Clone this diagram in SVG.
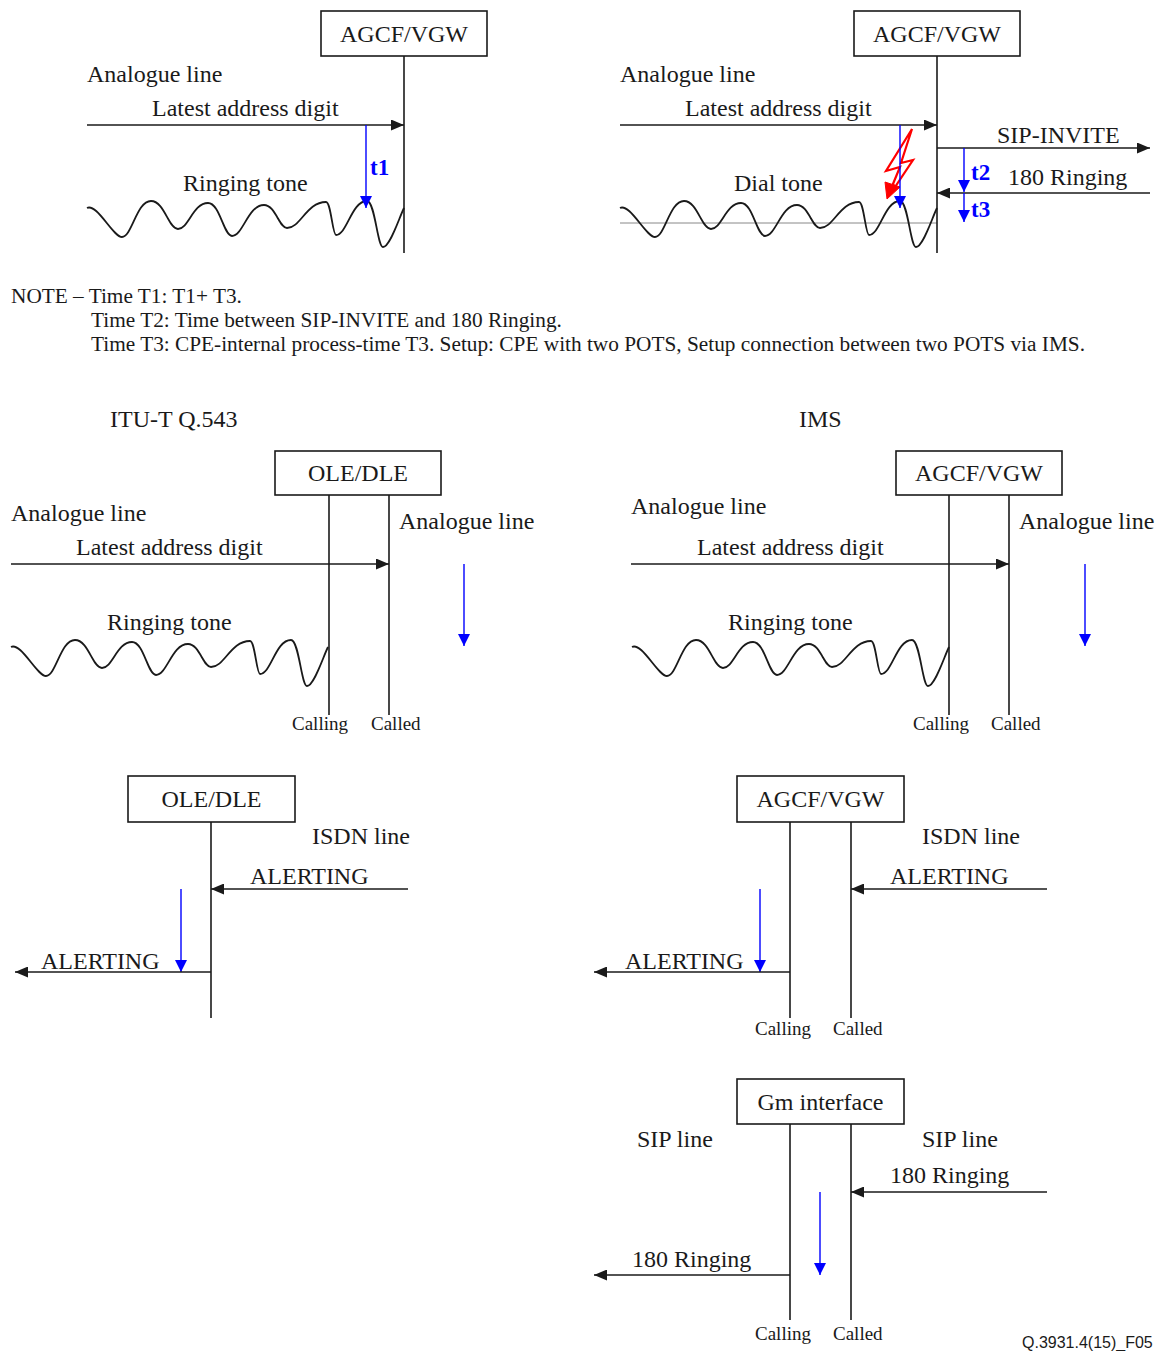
<svg xmlns="http://www.w3.org/2000/svg" xmlns:xlink="http://www.w3.org/1999/xlink" width="1161" height="1351" viewBox="0 0 1161 1351">
<style>
text{font-family:"Liberation Serif","Times New Roman",serif;fill:#1a1a1a;font-size:24px}
.note{font-size:21.3px}
.sm{font-size:19px}
.t{font-family:"Liberation Serif","Times New Roman",serif;font-weight:bold;fill:#0000ff;font-size:23px}
.code{font-family:"Liberation Sans",Arial,sans-serif;font-size:16px}
.box{fill:#fff;stroke:#1a1a1a;stroke-width:1.6}
.ln{stroke:#1a1a1a;stroke-width:1.6;fill:none}
.ar{stroke:#1a1a1a;stroke-width:1.6;fill:none;marker-end:url(#ah)}
.bl{stroke:#0000ff;stroke-width:1.4;fill:none;marker-end:url(#bh)}
.wave{stroke:#1a1a1a;stroke-width:1.8;fill:none}
.c{text-anchor:middle}
</style>
<defs>
<marker id="ah" markerWidth="13" markerHeight="11" refX="13" refY="5.5" orient="auto" markerUnits="userSpaceOnUse"><path d="M0,0 L13,5.5 L0,11 z" fill="#1a1a1a"/></marker>
<marker id="bh" markerWidth="12" markerHeight="12" refX="12" refY="6" orient="auto" markerUnits="userSpaceOnUse"><path d="M0,0 L12,6 L0,12 z" fill="#0000ff"/></marker>
<path id="wave" class="wave" d="M0,0 C10,-5 26,29 35,29 C45,29 49.5,-7 64,-7 C77.5,-7 81.5,21 91,21 C101.5,21 106,-5 121,-5 C133,-5 136.6,28 145,28 C156,28 161,-3 177,-3 C188.5,-3 192,20 200,20 C213.6,20 219.5,-6 239,-6 C244,-6 245.5,27 249,27 C260,27 264.5,-7 280,-7 C288,-7 290.4,39 296,39 C303,39 312,10 317,0"/>
</defs>
<rect width="1161" height="1351" fill="#fff"/>

<g id="top-left">
<g id="n-agcf1"><rect class="box" x="321" y="11" width="166" height="45"/><text class="c" x="404" y="42">AGCF/VGW</text></g>
<text x="87" y="82">Analogue line</text>
<text x="152" y="116">Latest address digit</text>
<text x="183" y="191">Ringing tone</text>
<use xlink:href="#wave" transform="translate(87,208)"/>
<text class="t" x="370" y="175">t1</text>
</g>

<g id="top-right">
<g id="n-agcf2"><rect class="box" x="854" y="11" width="166" height="45"/><text class="c" x="937" y="42">AGCF/VGW</text></g>
<text x="620" y="82">Analogue line</text>
<text x="685" y="116">Latest address digit</text>
<text x="734" y="191">Dial tone</text>
<text x="997" y="143">SIP-INVITE</text>
<text x="1008" y="185">180 Ringing</text>
<line x1="620" y1="223" x2="937" y2="223" stroke="#888" stroke-width="1"/>
<use xlink:href="#wave" transform="translate(620,208)"/>
<text class="t" x="971" y="180">t2</text>
<text class="t" x="971" y="217">t3</text>
<polygon points="912,129 886,171 900,167 893,184 895,187 913,160 901,163" fill="none" stroke="#ff0000" stroke-width="2.2" stroke-linejoin="miter"/>
<polygon points="885,182 900,187 887,199" fill="#ff0000" stroke="#ff0000" stroke-width="1"/>
</g>

<g id="note">
<text class="note" x="11" y="303">NOTE – Time T1: T1+ T3.</text>
<text class="note" x="91" y="327">Time T2: Time between SIP-INVITE and 180 Ringing.</text>
<text class="note" x="91" y="351">Time T3: CPE-internal process-time T3. Setup: CPE with two POTS, Setup connection between two POTS via IMS.</text>
</g>

<text x="110" y="427">ITU-T Q.543</text>
<text x="799" y="427">IMS</text>

<g id="mid-itu">
<g id="n-ole1"><rect class="box" x="275" y="451" width="166" height="44"/><text class="c" x="358" y="481">OLE/DLE</text></g>
<text x="11" y="521">Analogue line</text>
<text x="76" y="555">Latest address digit</text>
<text x="399" y="529">Analogue line</text>
<text x="107" y="630">Ringing tone</text>
<use xlink:href="#wave" transform="translate(11,647)"/>
<text class="sm" x="292" y="730">Calling</text>
<text class="sm" x="371" y="730">Called</text>
</g>

<g id="mid-ims">
<g id="n-agcf3"><rect class="box" x="896" y="451" width="166" height="44"/><text class="c" x="979" y="481">AGCF/VGW</text></g>
<text x="631" y="514">Analogue line</text>
<text x="697" y="555">Latest address digit</text>
<text x="1019" y="529">Analogue line</text>
<text x="728" y="630">Ringing tone</text>
<use xlink:href="#wave" transform="translate(632,647)"/>
<text class="sm" x="913" y="730">Calling</text>
<text class="sm" x="991" y="730">Called</text>
</g>

<g id="bot-itu">
<g id="n-ole2"><rect class="box" x="128" y="776" width="167" height="46"/><text class="c" x="211.5" y="807">OLE/DLE</text></g>
<text x="312" y="844">ISDN line</text>
<text x="250" y="884">ALERTING</text>
<text x="41" y="969">ALERTING</text>
</g>

<g id="bot-ims">
<g id="n-agcf4"><rect class="box" x="737" y="776" width="167" height="46"/><text class="c" x="820.5" y="807">AGCF/VGW</text></g>
<text x="922" y="844">ISDN line</text>
<text x="890" y="884">ALERTING</text>
<text x="625" y="969">ALERTING</text>
<text class="sm" x="755" y="1035">Calling</text>
<text class="sm" x="833" y="1035">Called</text>
</g>

<g id="gm">
<g id="n-gm"><rect class="box" x="737" y="1079" width="167" height="45"/><text class="c" x="820.5" y="1110">Gm interface</text></g>
<text x="637" y="1147">SIP line</text>
<text x="922" y="1147">SIP line</text>
<text x="890" y="1183">180 Ringing</text>
<text x="632" y="1267">180 Ringing</text>
<text class="sm" x="755" y="1340">Calling</text>
<text class="sm" x="833" y="1340">Called</text>
</g>

<text class="code" x="1022" y="1348">Q.3931.4(15)_F05</text>

<g id="connectors">
<line class="ln" x1="404" y1="56" x2="404" y2="253"/>
<line class="ar" x1="87" y1="125" x2="404" y2="125"/>
<line class="bl" x1="366" y1="125" x2="366" y2="208"/>

<line class="ln" x1="937" y1="56" x2="937" y2="253"/>
<line class="ar" x1="620" y1="125" x2="937" y2="125"/>
<line class="bl" x1="900" y1="125" x2="900" y2="208"/>
<line class="ar" x1="937" y1="148" x2="1150" y2="148"/>
<line class="ar" x1="1150" y1="193" x2="937" y2="193"/>
<line class="bl" x1="964" y1="148" x2="964" y2="192"/>
<line class="bl" x1="964" y1="193" x2="964" y2="222"/>

<line class="ln" x1="329" y1="495" x2="329" y2="715"/>
<line class="ln" x1="389" y1="495" x2="389" y2="715"/>
<line class="ar" x1="11" y1="564" x2="389" y2="564"/>
<line class="bl" x1="464" y1="564" x2="464" y2="646"/>

<line class="ln" x1="949" y1="495" x2="949" y2="715"/>
<line class="ln" x1="1009" y1="495" x2="1009" y2="715"/>
<line class="ar" x1="631" y1="564" x2="1009" y2="564"/>
<line class="bl" x1="1085" y1="564" x2="1085" y2="646"/>

<line class="ln" x1="211" y1="822" x2="211" y2="1018"/>
<line class="ar" x1="408" y1="889" x2="211" y2="889"/>
<line class="bl" x1="181" y1="889" x2="181" y2="972"/>
<line class="ar" x1="211" y1="972" x2="15" y2="972"/>

<line class="ln" x1="790" y1="822" x2="790" y2="1018"/>
<line class="ln" x1="851" y1="822" x2="851" y2="1018"/>
<line class="ar" x1="1047" y1="889" x2="851" y2="889"/>
<line class="bl" x1="760" y1="889" x2="760" y2="972"/>
<line class="ar" x1="790" y1="972" x2="594" y2="972"/>

<line class="ln" x1="790" y1="1124" x2="790" y2="1320"/>
<line class="ln" x1="851" y1="1124" x2="851" y2="1320"/>
<line class="ar" x1="1047" y1="1192" x2="851" y2="1192"/>
<line class="bl" x1="820" y1="1192" x2="820" y2="1275"/>
<line class="ar" x1="790" y1="1275" x2="594" y2="1275"/>
</g>
</svg>
